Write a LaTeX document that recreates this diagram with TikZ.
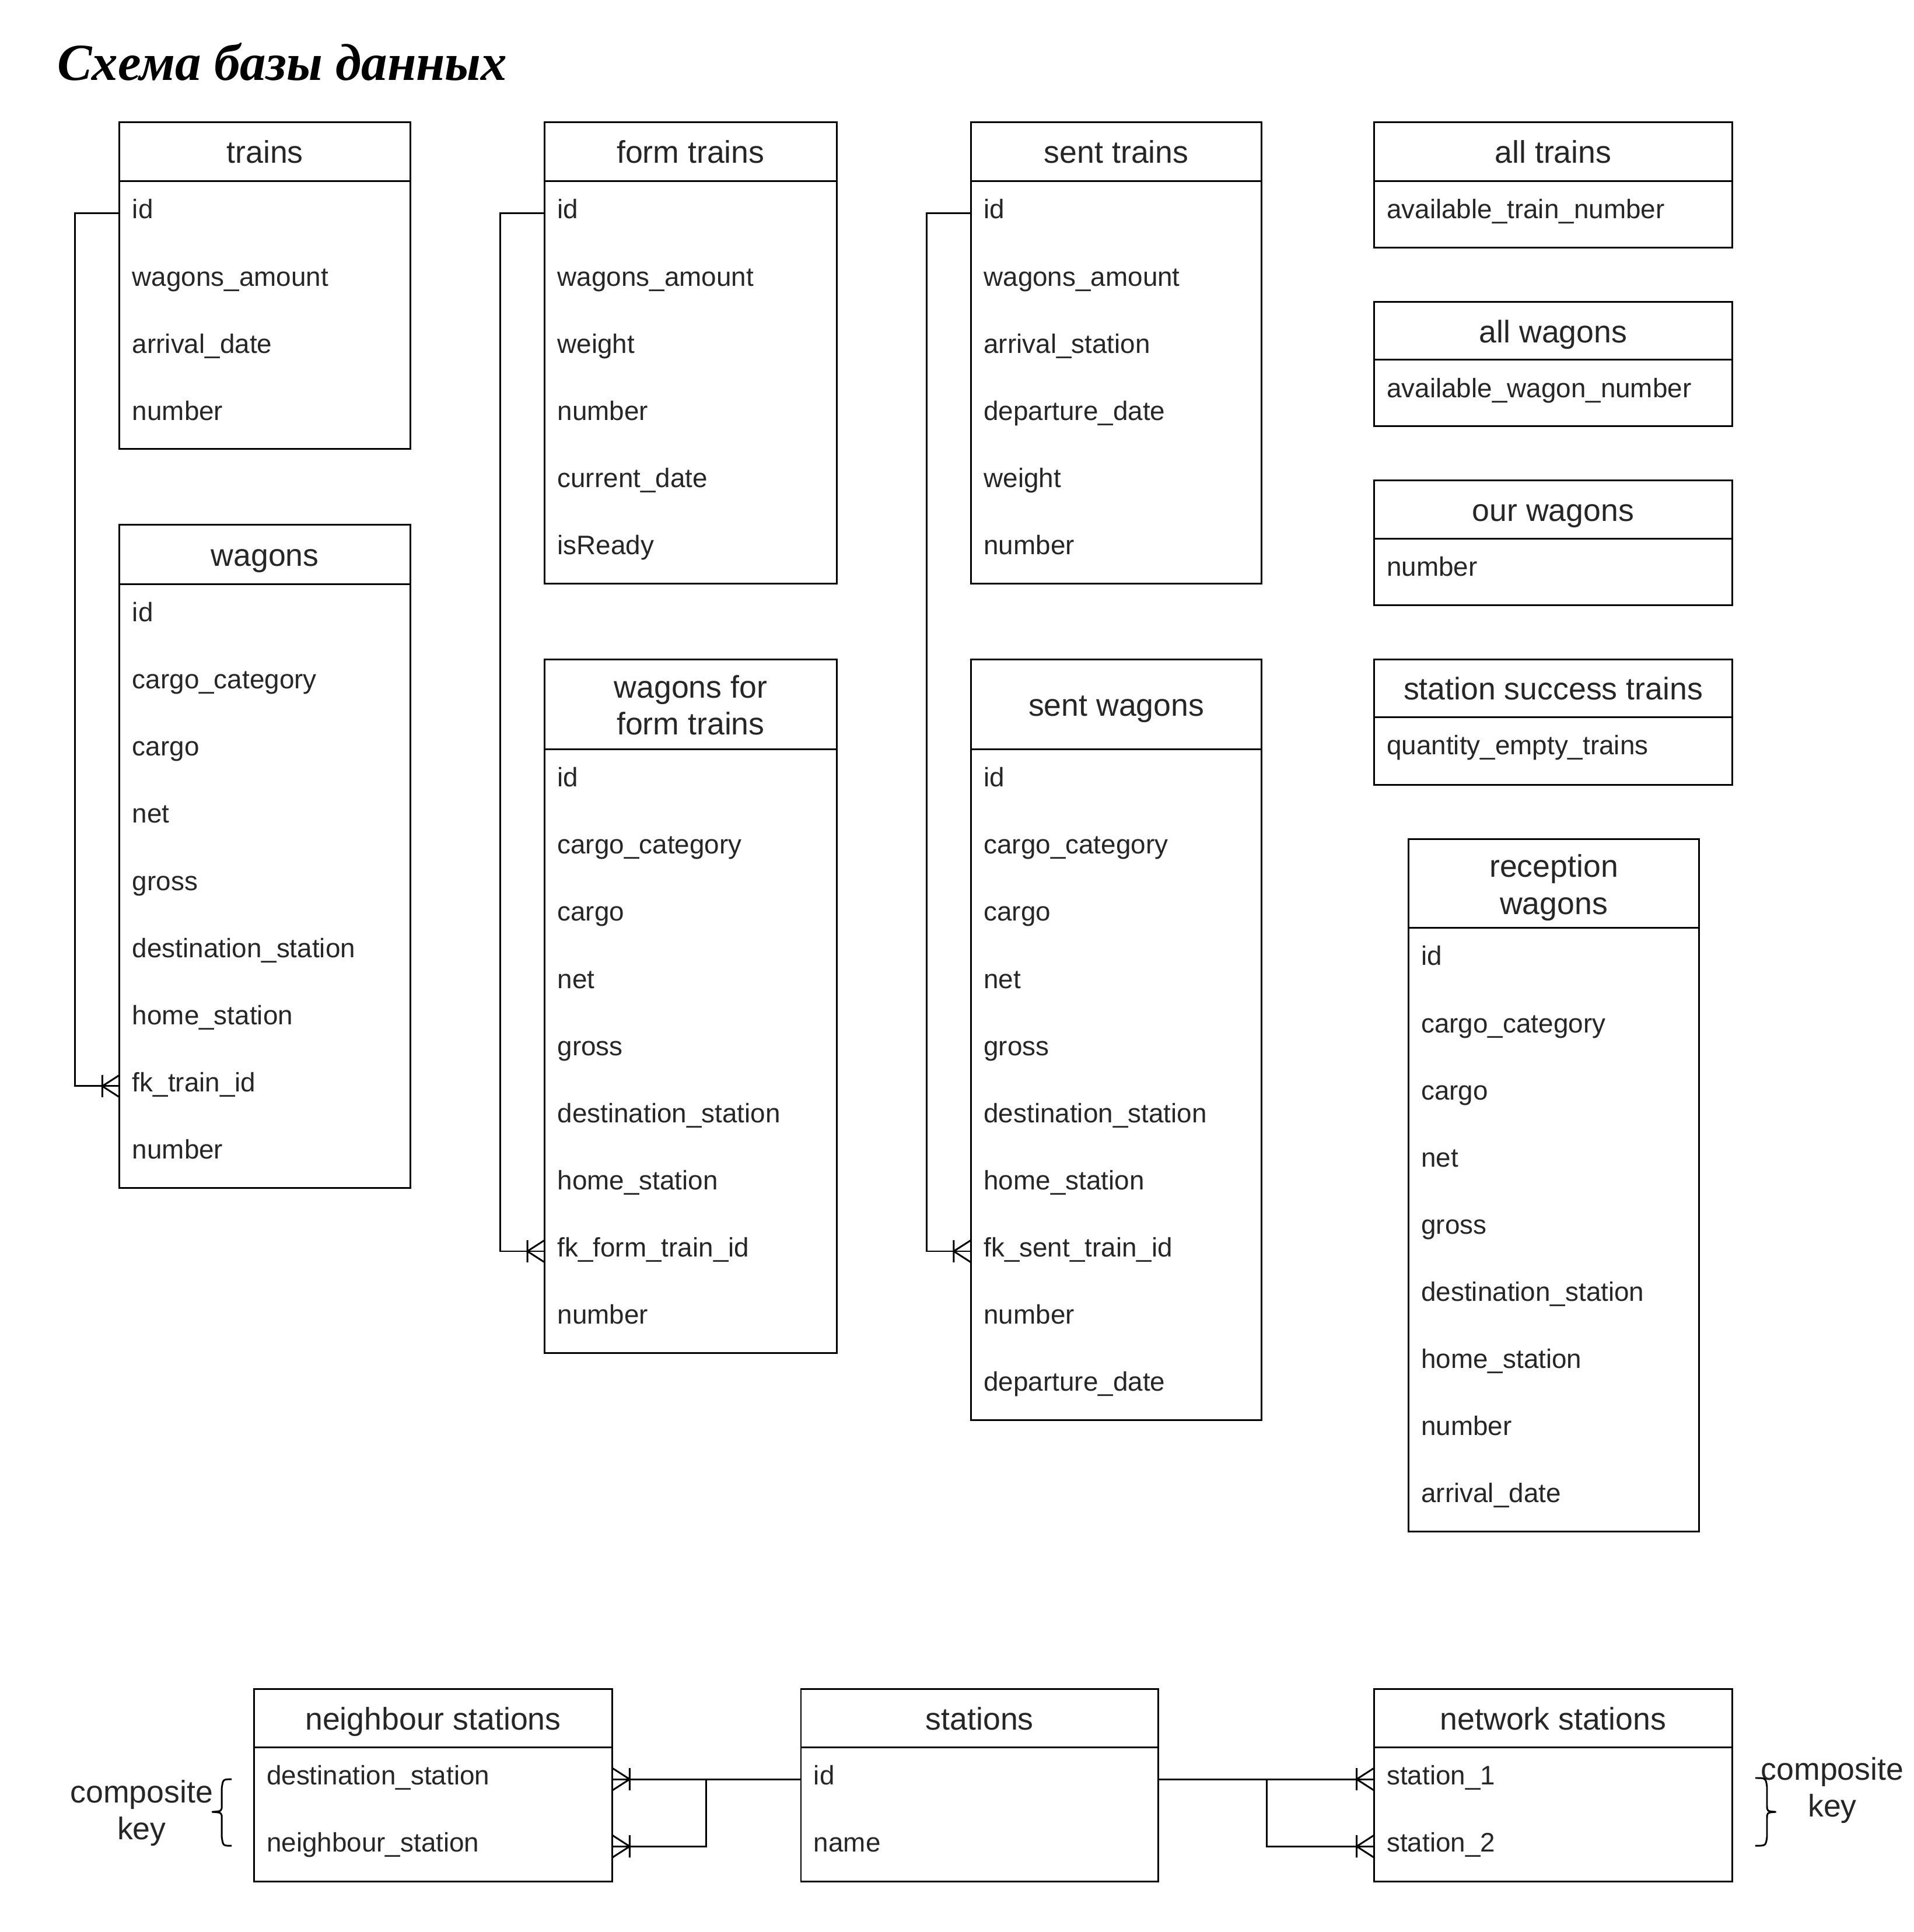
\documentclass[tikz,border=0pt]{standalone}
\usepackage{fontspec}
\setmainfont{Liberation Sans}
\newfontfamily\headingfont{Liberation Serif}
\usepackage{tikz}
\usetikzlibrary{positioning}
\usepackage{xcolor}

\tikzset{
  tbl/.style={draw, line width=0.7pt, inner sep=0pt, outer sep=0pt, anchor=north west},
  tbltitle/.style={font=\fontsize{12.7}{15}\selectfont, align=center, inner sep=0pt, anchor=base, text=black!85},
  field/.style={font=\fontsize{10.85}{13}\selectfont, inner sep=0pt, anchor=base west, text height=6pt, text depth=1.5pt, text=black!85},
  link/.style={line width=0.7pt},
  crowfoot/.pic={\draw[link] (0,9) -- (-14,0) -- (0,-9) (-14,9) -- (-14,-9);}
}

\begin{document}
\begin{tikzpicture}[x=0.5pt, y=-0.5pt]
    \useasboundingbox (0,0) rectangle (1553,1568);
    \node[anchor=base west, inner sep=0pt, font=\headingfont\bfseries\itshape\fontsize{21.1}{26}\selectfont] (heading) at (46,65) {Схема базы данных};

    \node[tbl, minimum width=118pt, minimum height=132.75pt] (trains) at (97,99) {};
    \draw[link] (97,147) -- (333,147);
    \node[tbltitle] (trains-t) at (215,132.5) {trains};
    \foreach \f [count=\i] in {id, wagons\_amount, arrival\_date, number}
        \node[field] (trains-\i) at (107, 177.5+54.5*\i-54.5) {\f};

    \node[tbl, minimum width=118pt, minimum height=269pt] (wagons) at (97,426) {};
    \draw[link] (97,474) -- (333,474);
    \node[tbltitle] (wagons-t) at (215,459.5) {wagons};
    \foreach \f [count=\i] in {id, cargo\_category, cargo, net, gross, destination\_station, home\_station, fk\_train\_id, number}
        \node[field] (wagons-\i) at (107, 504.5+54.5*\i-54.5) {\f};

    \node[tbl, minimum width=118.5pt, minimum height=187.25pt] (ftrains) at (442,99) {};
    \draw[link] (442,147) -- (679,147);
    \node[tbltitle] (ftrains-t) at (560.5,132.5) {form trains};
    \foreach \f [count=\i] in {id, wagons\_amount, weight, number, current\_date, isReady}
        \node[field] (ftrains-\i) at (452, 177.5+54.5*\i-54.5) {\f};

    \node[tbl, minimum width=118.5pt, minimum height=281.5pt] (fwagons) at (442,535) {};
    \draw[link] (442,608) -- (679,608);
    \node[tbltitle] (fwagons-t) at (560.5,596.5) {wagons for\\form trains};
    \foreach \f [count=\i] in {id, cargo\_category, cargo, net, gross, destination\_station, home\_station, fk\_form\_train\_id, number}
        \node[field] (fwagons-\i) at (452, 638.5+54.5*\i-54.5) {\f};

    \node[tbl, minimum width=118pt, minimum height=187.25pt] (strains) at (788,99) {};
    \draw[link] (788,147) -- (1024,147);
    \node[tbltitle] (strains-t) at (906,132.5) {sent trains};
    \foreach \f [count=\i] in {id, wagons\_amount, arrival\_station, departure\_date, weight, number}
        \node[field] (strains-\i) at (798, 177.5+54.5*\i-54.5) {\f};

    \node[tbl, minimum width=118pt, minimum height=308.75pt] (swagons) at (788,535) {};
    \draw[link] (788,608) -- (1024,608);
    \node[tbltitle] (swagons-t) at (906,581) {sent wagons};
    \foreach \f [count=\i] in {id, cargo\_category, cargo, net, gross, destination\_station, home\_station, fk\_sent\_train\_id, number, departure\_date}
        \node[field] (swagons-\i) at (798, 638.5+54.5*\i-54.5) {\f};

    \node[tbl, minimum width=145.5pt, minimum height=51pt] (alltr) at (1115,99) {};
    \draw[link] (1115,147) -- (1406,147);
    \node[tbltitle] (alltr-t) at (1260.5,132.5) {all trains};
    \node[field] (alltr-1) at (1125,177.5) {available\_train\_number};

    \node[tbl, minimum width=145.5pt, minimum height=50.5pt] (allwg) at (1115,245) {};
    \draw[link] (1115,292) -- (1406,292);
    \node[tbltitle] (allwg-t) at (1260.5,278) {all wagons};
    \node[field] (allwg-1) at (1125,322.5) {available\_wagon\_number};

    \node[tbl, minimum width=145.5pt, minimum height=50.5pt] (ourwg) at (1115,390) {};
    \draw[link] (1115,437) -- (1406,437);
    \node[tbltitle] (ourwg-t) at (1260.5,423) {our wagons};
    \node[field] (ourwg-1) at (1125,467.5) {number};

    \node[tbl, minimum width=145.5pt, minimum height=51pt] (sst) at (1115,535) {};
    \draw[link] (1115,582) -- (1406,582);
    \node[tbltitle] (sst-t) at (1260.5,568) {station success trains};
    \node[field] (sst-1) at (1125,612.5) {quantity\_empty\_trains};

    \node[tbl, minimum width=118pt, minimum height=281pt] (recw) at (1143,681) {};
    \draw[link] (1143,753) -- (1379,753);
    \node[tbltitle] (recw-t) at (1261,742) {reception\\wagons};
    \foreach \f [count=\i] in {id, cargo\_category, cargo, net, gross, destination\_station, home\_station, number, arrival\_date}
        \node[field] (recw-\i) at (1153, 783.5+54.5*\i-54.5) {\f};

    \node[tbl, minimum width=145.5pt, minimum height=78pt] (nbr) at (206,1371) {};
    \draw[link] (206,1418) -- (497,1418);
    \node[tbltitle] (nbr-t) at (351.5,1404) {neighbour stations};
    \foreach \f [count=\i] in {destination\_station, neighbour\_station}
        \node[field] (nbr-\i) at (216, 1448.5+54.5*\i-54.5) {\f};

    \node[tbl, minimum width=145pt, minimum height=78pt] (st) at (650,1371) {};
    \draw[link] (650,1418) -- (940,1418);
    \node[tbltitle] (st-t) at (795,1404) {stations};
    \foreach \f [count=\i] in {id, name}
        \node[field] (st-\i) at (660, 1448.5+54.5*\i-54.5) {\f};

    \node[tbl, minimum width=145.5pt, minimum height=78pt] (net) at (1115,1371) {};
    \draw[link] (1115,1418) -- (1406,1418);
    \node[tbltitle] (net-t) at (1260.5,1404) {network stations};
    \foreach \f [count=\i] in {station\_1, station\_2}
        \node[field] (net-\i) at (1125, 1448.5+54.5*\i-54.5) {\f};

    \draw[link] (trains-1.west -| trains.west) -- ++(-36,0) |- (wagons-8.west -| wagons.west);
    \pic at (wagons-8.west -| wagons.west) {crowfoot};
    \draw[link] (ftrains-1.west -| ftrains.west) -- ++(-36,0) |- (fwagons-8.west -| fwagons.west);
    \pic at (fwagons-8.west -| fwagons.west) {crowfoot};
    \draw[link] (strains-1.west -| strains.west) -- ++(-36,0) |- (swagons-8.west -| swagons.west);
    \pic at (swagons-8.west -| swagons.west) {crowfoot};

    \draw[link] (st-1.west -| st.west) -- (nbr-1.west -| nbr.east);
    \draw[link] (st-1.west -| st.west) ++(-77,0) |- (nbr-2.west -| nbr.east);
    \pic[xscale=-1] at (nbr-1.west -| nbr.east) {crowfoot};
    \pic[xscale=-1] at (nbr-2.west -| nbr.east) {crowfoot};
    \draw[link] (st-1.west -| st.east) -- (net-1.west -| net.west);
    \draw[link] (st-1.west -| st.east) ++(88,0) |- (net-2.west -| net.west);
    \pic at (net-1.west -| net.west) {crowfoot};
    \pic at (net-2.west -| net.west) {crowfoot};

    \node[tbltitle] (key-l) at (115,1493) {composite\\key};
    \draw[link] (188,1444) .. controls (181,1444) .. (180,1451) -- (180,1465) .. controls (180,1470) .. (172,1470.5) .. controls (180,1471) .. (180,1476) -- (180,1491) .. controls (181,1498) .. (188,1498);
    \node[tbltitle] (key-r) at (1487,1474.5) {composite\\key};
    \draw[link] (1424.5,1443) .. controls (1433,1443) .. (1434,1450) -- (1434,1465) .. controls (1434,1470) .. (1441.3,1470.5) .. controls (1434,1471) .. (1434,1476) -- (1434,1491) .. controls (1433,1498) .. (1424.5,1498);
\end{tikzpicture}
\end{document}
